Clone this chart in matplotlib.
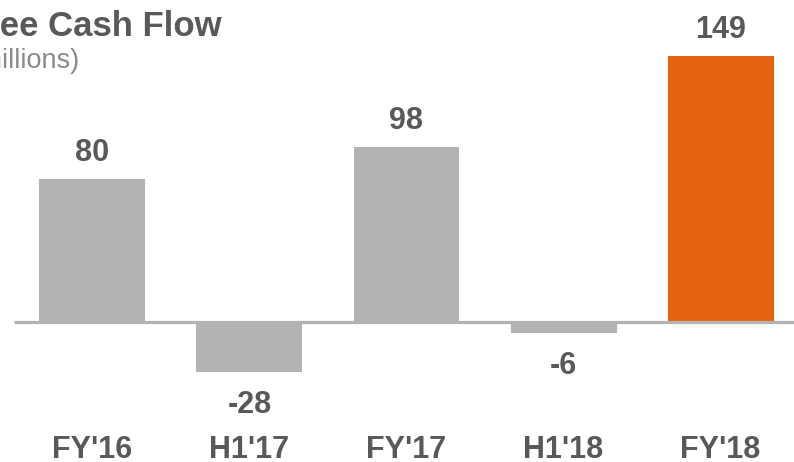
import matplotlib
matplotlib.use("Agg")
import matplotlib.pyplot as plt
from matplotlib.transforms import blended_transform_factory

periods = ["FY'16", "H1'17", "FY'17", "H1'18", "FY'18"]
free_cash_flow = [80, -28, 98, -6, 149]
highlight = "FY'18"

title = "Free Cash Flow"
subtitle = "(€ millions)"

GREY = "#b3b3b3"
ORANGE = "#e3610f"
TEXT = "#58595b"
SUBTEXT = "#8a8a8c"

plt.rcParams["font.family"] = ["Liberation Sans", "DejaVu Sans"]

fig = plt.figure(figsize=(7.94, 4.62), dpi=100)
ax = fig.add_axes([0, 0, 1, 1])
ax.set_xlim(-0.589, 4.468)
ax.set_ylim(-78.4, 180.4)
ax.axis("off")

x = list(range(len(periods)))
colors = [ORANGE if p == highlight else GREY for p in periods]
ax.bar(x, free_cash_flow, width=0.675, color=colors, zorder=2)

# baseline at zero
ax.plot([-0.5, 4.6], [0, 0], color=GREY, lw=2.3, zorder=3, solid_capstyle="butt")

for xi, v in zip(x, free_cash_flow):
    if v >= 0:
        ax.annotate(str(v), (xi, v), xytext=(0, 18), textcoords="offset pixels",
                    ha="center", va="baseline", fontsize=22, fontweight="bold", color=TEXT)
    else:
        ax.annotate(str(v), (xi, v), xytext=(0, -18), textcoords="offset pixels",
                    ha="center", va="top", fontsize=22, fontweight="bold", color=TEXT)

# category labels along the bottom edge
bottom = blended_transform_factory(ax.transData, fig.transFigure)
for xi, p in zip(x, periods):
    ax.text(xi, 3.5 / 462, p, transform=bottom,
            ha="center", va="baseline", fontsize=22, fontweight="bold", color=TEXT)

fig.text(222 / 794, 1 - 36 / 462, title, ha="right", va="baseline",
         fontsize=25, fontweight="bold", color=TEXT)
fig.text(79 / 794, 1 - 68 / 462, subtitle, ha="right", va="baseline",
         fontsize=19.5, color=SUBTEXT)

fig.savefig("out.png", dpi=100)
